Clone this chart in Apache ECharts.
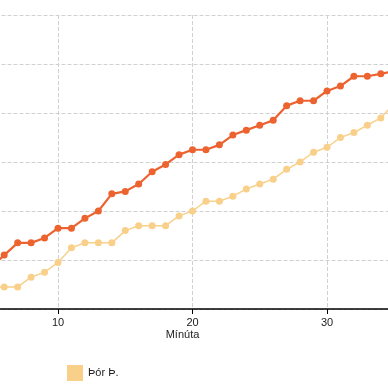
<!DOCTYPE html>
<html><head><meta charset="utf-8">
<script src="https://cdn.jsdelivr.net/npm/echarts@6/dist/echarts.min.js"></script>
<style>html,body{margin:0;padding:0;background:#fff}#c{width:388px;height:388px}</style>
</head><body><div id="c"></div>
<script>
var minutes = [5,6,7,8,9,10,11,12,13,14,15,16,17,18,19,20,21,22,23,24,25,26,27,28,29,30,31,32,33,34,35];
var teamA = [17,22,27,27,29,33,33,37,40,47,48,51,56,59,63,65,65,67,71,73,75,77,83,85,85,89,91,95,95,96,97];
var teamB = [9,9,9,13,15,19,25,27,27,27,32,34,34,34,38,40,44,44,46,49,51,53,57,60,64,66,70,72,75,78,84];
var nameA = 'Lið A';
var nameB = 'Þór Þ.';
var xName = 'Mínúta';

function pairs(vals){ return minutes.map(function(m,i){ return [m, vals[i]]; }); }

var chart = echarts.init(document.getElementById('c'), null, {renderer:'canvas'});
chart.setOption({
  animation:false,
  backgroundColor:'#fff',
  grid:{left:-76.5, right:-73.5, top:15, bottom:79, containLabel:false, outerBoundsMode:'none'},
  legend:{data:[nameB], left:62, top:360, itemWidth:16, itemHeight:16, icon:'rect', itemGap:10,
    textStyle:{fontFamily:'Liberation Sans', fontSize:11, color:'#222'}},
  xAxis:{type:'value', min:0, max:40, interval:10, name:xName, nameLocation:'middle', nameGap:20,
    nameMoveOverlap:false,
    nameTextStyle:{fontFamily:'Liberation Sans', fontSize:11, color:'#222', padding:[0,20,0,0]},
    axisLine:{lineStyle:{color:'#000', width:1.5}},
    axisTick:{show:true, length:5, lineStyle:{color:'#000'}},
    axisLabel:{fontFamily:'Liberation Sans', fontSize:11, color:'#222', margin:8},
    splitLine:{show:true, lineStyle:{color:'#d0d0d0', type:'dashed', width:1}}},
  yAxis:{type:'value', min:0, max:120, interval:20,
    axisLine:{show:false}, axisTick:{show:false}, axisLabel:{show:false},
    splitLine:{show:true, lineStyle:{color:'#d0d0d0', type:'dashed', width:1}}},
  series:[
    {name:nameB, type:'line', data:pairs(teamB), symbol:'circle', symbolSize:7,
      itemStyle:{color:'#f9d08a'}, lineStyle:{color:'#f9d08a', width:1.5}, z:2},
    {name:nameA, type:'line', data:pairs(teamA), symbol:'circle', symbolSize:7,
      itemStyle:{color:'#ec6330'}, lineStyle:{color:'#ec6330', width:2.2}, z:3}
  ]
});
</script></body></html>
